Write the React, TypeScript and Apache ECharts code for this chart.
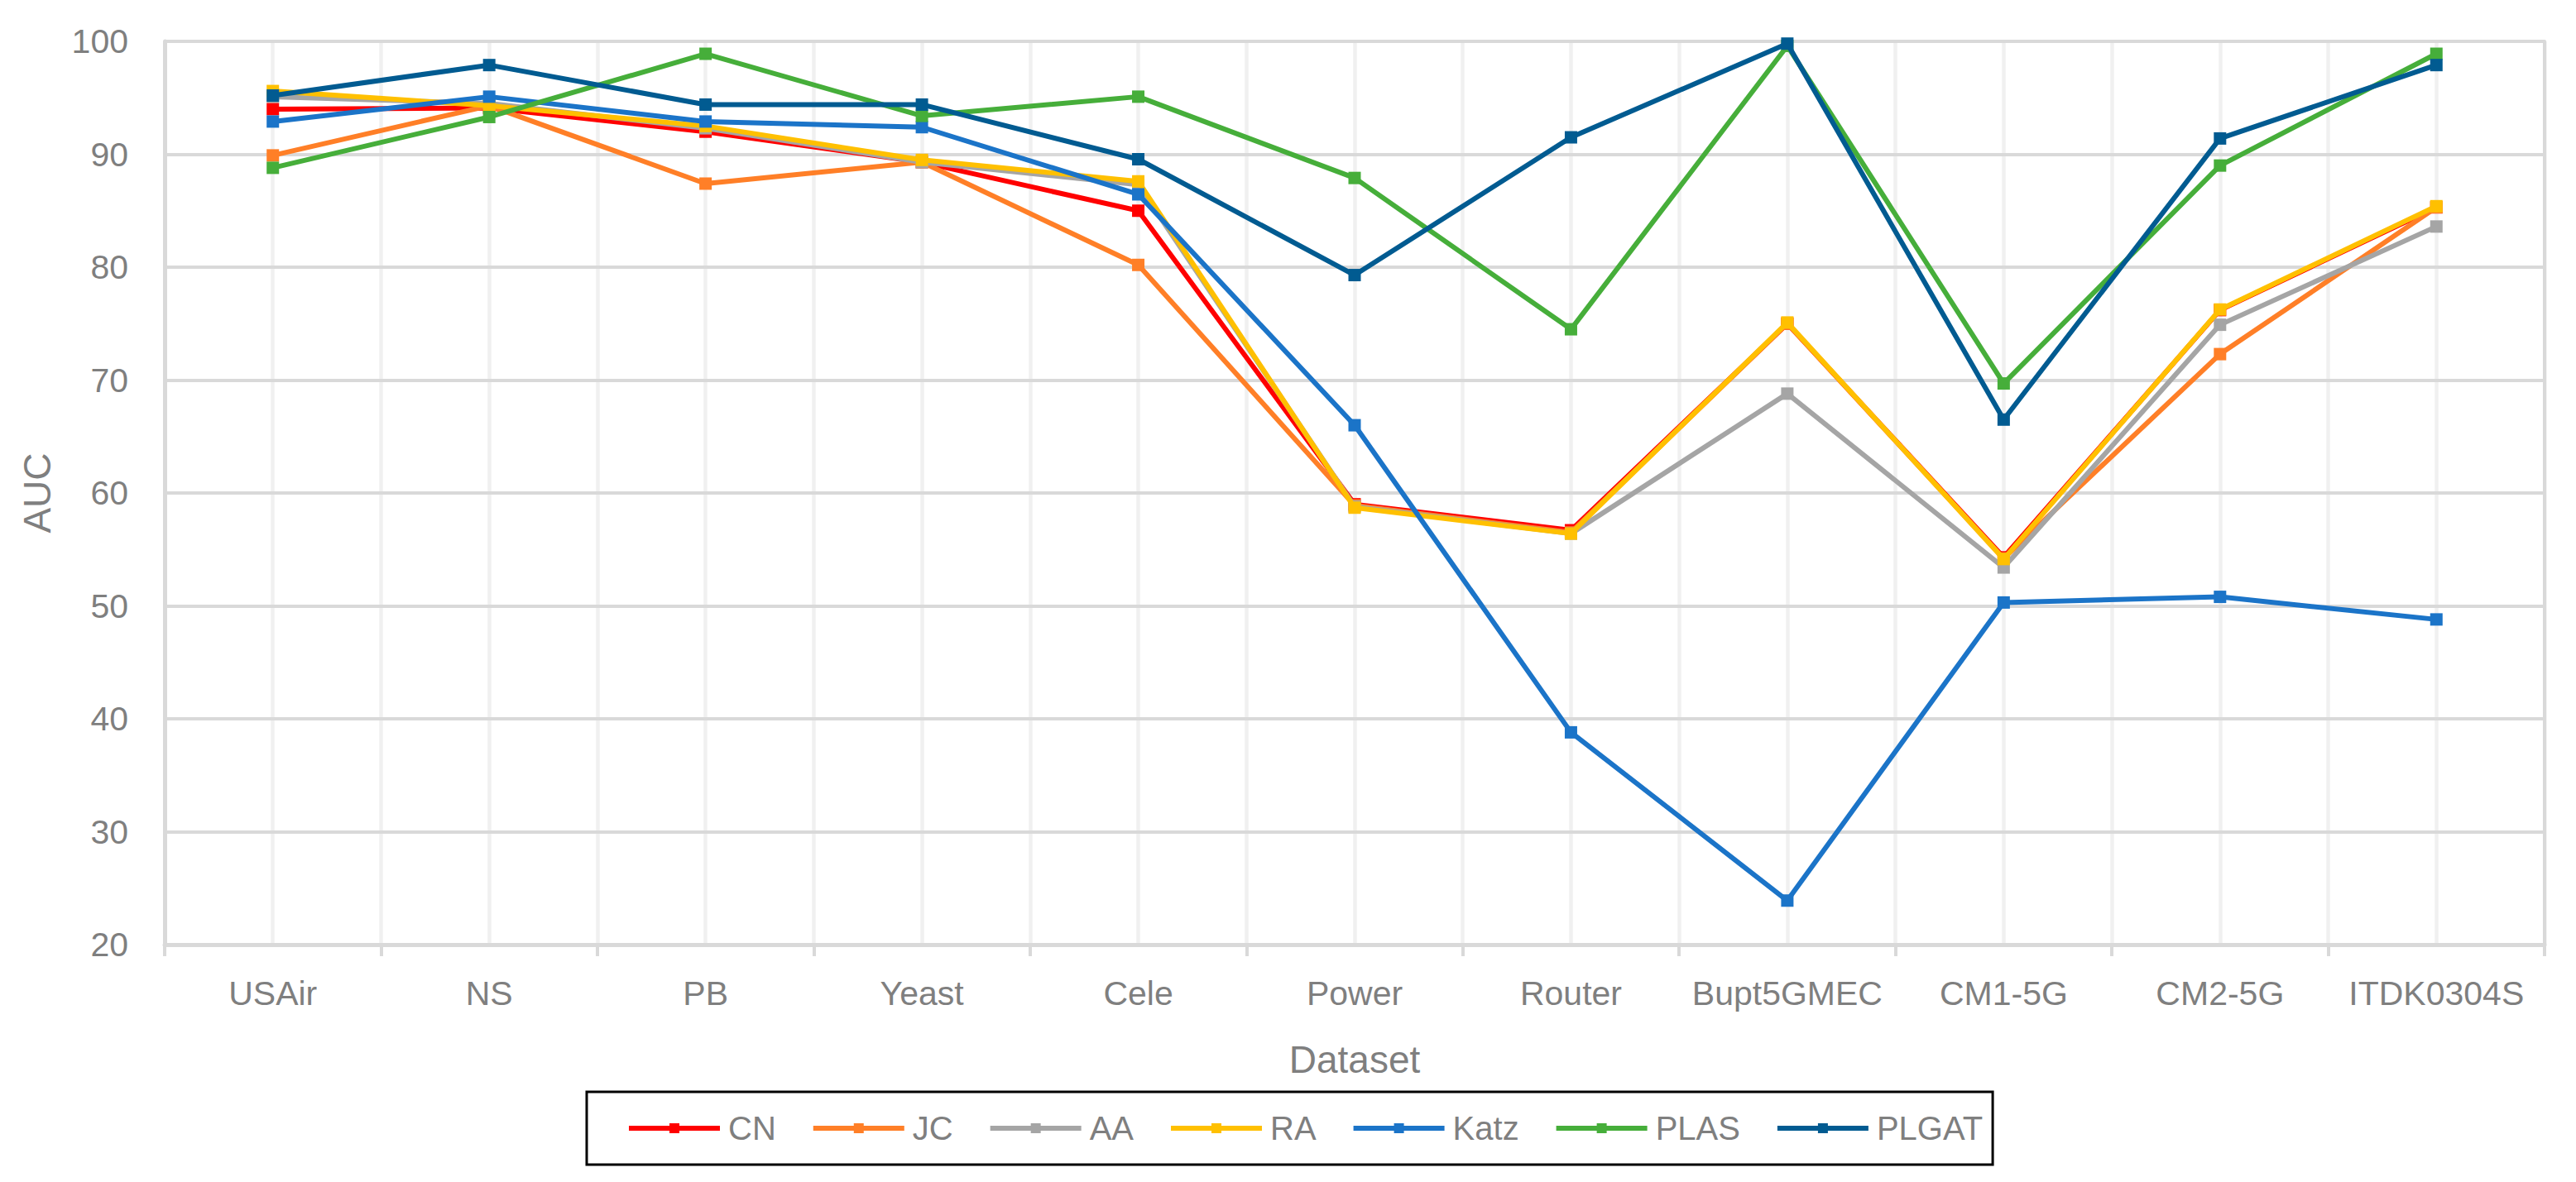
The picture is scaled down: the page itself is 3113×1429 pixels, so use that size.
import React, { useEffect, useRef } from "react";
import * as echarts from "echarts";

const categories = ["USAir", "NS", "PB", "Yeast", "Cele", "Power", "Router", "Bupt5GMEC", "CM1-5G", "CM2-5G", "ITDK0304S"];

const cnValues = [94.0, 94.1, 92.0, 89.3, 85.0, 59.0, 56.7, 75.0, 54.3, 76.2, 85.3];
const jcValues = [89.9, 94.3, 87.4, 89.3, 80.2, 58.9, 56.5, 75.0, 54.2, 72.3, 85.3];
const aaValues = [95.1, 94.5, 92.3, 89.3, 87.3, 58.8, 56.4, 68.8, 53.4, 74.9, 83.6];
const raValues = [95.6, 94.3, 92.5, 89.5, 87.6, 58.7, 56.4, 75.1, 54.15, 76.25, 85.4];
const katzValues = [92.9, 95.1, 92.9, 92.4, 86.45, 66.0, 38.8, 23.9, 50.3, 50.8, 48.8];
const plasValues = [88.8, 93.3, 98.9, 93.4, 95.1, 87.9, 74.5, 99.6, 69.7, 89.0, 98.9];
const plgatValues = [95.2, 97.9, 94.4, 94.4, 89.56, 79.3, 91.5, 99.8, 66.5, 91.4, 97.9];

const seriesNames = ["CN", "JC", "AA", "RA", "Katz", "PLAS", "PLGAT"];
const seriesValues = [cnValues, jcValues, aaValues, raValues, katzValues, plasValues, plgatValues];
const seriesColors = ["#FF0000", "#FF7F27", "#A5A5A5", "#FFC000", "#1B74C8", "#46AE3A", "#015B91"];

const yTicks = { min: 20, max: 100, interval: 10 };

const FONT = "'Liberation Sans', Arial, sans-serif";
const TEXT = "#7f7f7f";

export default function App() {
  const ref = useRef<HTMLDivElement>(null);
  useEffect(() => {
    if (!ref.current) return;
    const chart = echarts.init(ref.current, null, { renderer: "svg" });
    const option = {
      animation: false,
      backgroundColor: "#ffffff",
      textStyle: { fontFamily: FONT },
      grid: { left: 199, right: 38, top: 50, bottom: 287, containLabel: false },
      legend: {
        data: seriesNames,
        left: 709,
        top: 1320,
        orient: "horizontal",
        borderColor: "#000000",
        borderWidth: 3,
        padding: [24, 12, 24, 48],
        itemWidth: 110,
        itemHeight: 15,
        itemGap: 42,
        lineStyle: { width: 6 },
        textStyle: { fontFamily: FONT, fontSize: 40, color: TEXT, padding: [0, 0, 0, 5] },
      },
      xAxis: [
        {
          type: "category",
          data: categories,
          boundaryGap: true,
          name: "Dataset",
          nameLocation: "middle",
          nameGap: 116,
          nameTextStyle: { fontFamily: FONT, fontSize: 46, color: TEXT },
          axisLine: { show: true, lineStyle: { color: "#d9d9d9", width: 5 } },
          axisTick: { show: true, interval: 0, length: 14, lineStyle: { color: "#d9d9d9", width: 4 } },
          axisLabel: { interval: 0, margin: 38, fontFamily: FONT, fontSize: 41, color: TEXT },
          splitLine: { show: false },
          z: 5,
        },
        {
          type: "value",
          min: 0,
          max: 22,
          interval: 1,
          position: "bottom",
          axisLine: { show: false },
          axisTick: { show: false },
          axisLabel: { show: false },
          splitLine: { show: true, lineStyle: { color: "#f0f0f0", width: 4.5 } },
        },
      ],
      yAxis: [
        {
          type: "value",
          min: yTicks.min,
          max: yTicks.max,
          interval: yTicks.interval,
          name: "AUC",
          nameLocation: "middle",
          nameGap: 131,
          nameTextStyle: { fontFamily: FONT, fontSize: 46, color: TEXT },
          axisLine: { show: true, lineStyle: { color: "#d9d9d9", width: 5 } },
          axisTick: { show: false },
          axisLabel: { margin: 44, fontFamily: FONT, fontSize: 41, color: TEXT },
          splitLine: { show: true, lineStyle: { color: "#d9d9d9", width: 4 } },
          z: 5,
        },
        {
          type: "value",
          min: yTicks.min,
          max: yTicks.max,
          interval: yTicks.interval,
          position: "right",
          axisLine: { show: true, lineStyle: { color: "#d9d9d9", width: 4 } },
          axisTick: { show: false },
          axisLabel: { show: false },
          splitLine: { show: false },
        },
      ],
      series: seriesNames.map((name, i) => ({
        name,
        type: "line",
        xAxisIndex: 0,
        yAxisIndex: 0,
        data: seriesValues[i],
        symbol: "rect",
        symbolSize: 15,
        showSymbol: true,
        itemStyle: { color: seriesColors[i] },
        lineStyle: { color: seriesColors[i], width: 6 },
        emphasis: { disabled: true },
        z: 10 + i,
      })),
    };
    chart.setOption(option as any);
    return () => chart.dispose();
  }, []);
  return (
    <div
      ref={ref}
      style={{ position: "absolute", left: 0, top: 0, width: 3113, height: 1429, background: "#fff" }}
    />
  );
}
